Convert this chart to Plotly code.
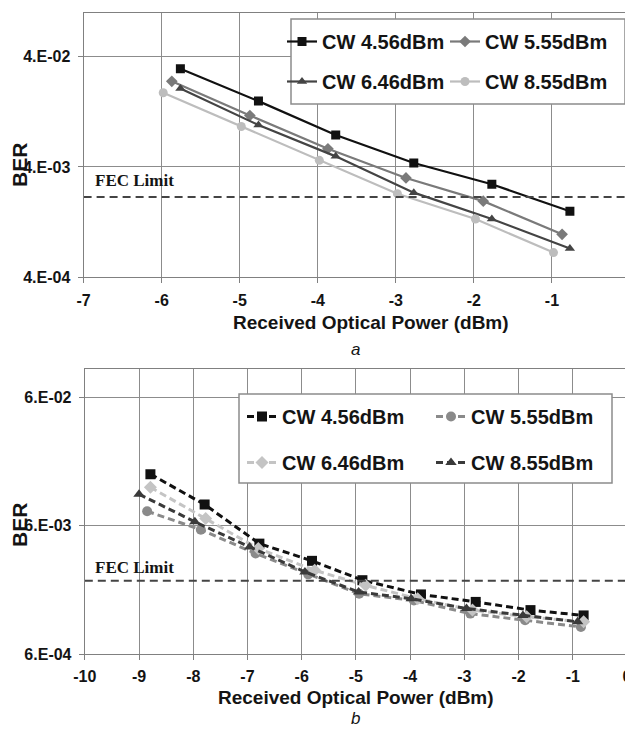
import math
import plotly.graph_objects as go

# ---------------- data ----------------
series_names = ["CW 4.56dBm", "CW 5.55dBm", "CW 6.46dBm", "CW 8.55dBm"]

# panel a
a_x_456 = [-5.76, -4.76, -3.77, -2.77, -1.77, -0.77]
a_y_456 = [3.1e-2, 1.58e-2, 7.8e-3, 4.34e-3, 2.79e-3, 1.59e-3]
a_x_555 = [-5.87, -4.87, -3.87, -2.87, -1.88, -0.87]
a_y_555 = [2.39e-2, 1.17e-2, 5.85e-3, 3.18e-3, 1.96e-3, 9.8e-4]
a_x_646 = [-5.76, -4.76, -3.77, -2.77, -1.77, -0.77]
a_y_646 = [2.06e-2, 9.6e-3, 4.99e-3, 2.34e-3, 1.35e-3, 7.3e-4]
a_x_855 = [-5.98, -4.98, -3.98, -2.98, -1.98, -0.98]
a_y_855 = [1.88e-2, 9.3e-3, 4.59e-3, 2.29e-3, 1.35e-3, 6.7e-4]

# panel b
b_x_456 = [-8.79, -7.79, -6.78, -5.81, -4.88, -3.80, -2.79, -1.78, -0.80]
b_y_456 = [1.52e-2, 8.8e-3, 4.36e-3, 3.2e-3, 2.26e-3, 1.75e-3, 1.53e-3, 1.32e-3, 1.2e-3]
b_x_555 = [-8.85, -7.86, -6.85, -5.88, -4.94, -3.93, -2.89, -1.88, -0.85]
b_y_555 = [7.8e-3, 5.6e-3, 3.65e-3, 2.51e-3, 1.77e-3, 1.57e-3, 1.24e-3, 1.1e-3, 9.75e-4]
b_x_646 = [-8.79, -7.77, -6.80, -5.76, -4.82, -3.86, -2.85, -1.85, -0.80]
b_y_646 = [1.2e-2, 6.84e-3, 3.99e-3, 2.7e-3, 2.06e-3, 1.62e-3, 1.32e-3, 1.17e-3, 1.07e-3]
b_x_855 = [-9.0, -7.97, -6.96, -5.94, -4.95, -3.98, -2.96, -1.92, -0.91]
b_y_855 = [1.06e-2, 6.45e-3, 4.11e-3, 2.62e-3, 1.83e-3, 1.62e-3, 1.36e-3, 1.2e-3, 1.07e-3]

fec_a = 2.14e-3
fec_b = 2.24e-3

a_xrange = [-7, 0]
b_xrange = [-10, 0]
a_xtickvals = [-7, -6, -5, -4, -3, -2, -1, 0]
a_xticktext = ["-7", "-6", "-5", "-4", "-3", "-2", "-1", "0"]
b_xtickvals = [-10, -9, -8, -7, -6, -5, -4, -3, -2, -1, 0]
b_xticktext = ["-10", "-9", "-8", "-7", "-6", "-5", "-4", "-3", "-2", "-1", "0"]
a_ytickvals = [4e-4, 4e-3, 4e-2]
a_yticktext = ["4.E-04", "4.E-03", "4.E-02"]
b_ytickvals = [6e-4, 6e-3, 6e-2]
b_yticktext = ["6.E-04", "6.E-03", "6.E-02"]

x_title = "Received Optical Power (dBm)"
y_title = "BER"
fec_text = "FEC Limit"

# ---------------- layout helpers ----------------
# the page body has an 8px margin, so the figure is placed at (8, 8)
OFF = 8
WIN_W, WIN_H = 633, 731
W, H = WIN_W - OFF, WIN_H - OFF
def px(x):
    return (x - OFF) / W
def py(y):
    return 1 - (y - OFF) / H

SANS = "Liberation Sans, Arial, sans-serif"
SERIF = "Liberation Serif, Times New Roman, serif"
TXT = "#141414"
GRID = "#8c8c8c"

fig = go.Figure()

# panel a traces (solid)
a_styles = [
    (a_x_456, a_y_456, "#111111", "square", "legend"),
    (a_x_555, a_y_555, "#7a7a7a", "diamond", "legend2"),
    (a_x_646, a_y_646, "#444444", "triangle-up", "legend"),
    (a_x_855, a_y_855, "#bdbdbd", "circle", "legend2"),
]
for name, (xs, ys, col, sym, lg) in zip(series_names, a_styles):
    fig.add_trace(go.Scatter(
        x=xs, y=ys, name=name, mode="lines+markers",
        line=dict(color=col, width=2.2),
        marker=dict(color=col, symbol=sym, size=9),
        xaxis="x", yaxis="y", legend=lg, legendgroup="a" + name))

fig.add_trace(go.Scatter(x=a_xrange, y=[fec_a, fec_a], mode="lines",
                         line=dict(color="#444444", width=2, dash="8px,5px"),
                         showlegend=False, xaxis="x", yaxis="y", hoverinfo="skip"))

# panel b traces (dashed)
b_styles = [
    (b_x_456, b_y_456, "#111111", "square", "legend3"),
    (b_x_555, b_y_555, "#8a8a8a", "circle", "legend4"),
    (b_x_646, b_y_646, "#c4c4c4", "diamond", "legend3"),
    (b_x_855, b_y_855, "#3a3a3a", "triangle-up", "legend4"),
]
for name, (xs, ys, col, sym, lg) in zip(series_names, b_styles):
    fig.add_trace(go.Scatter(
        x=xs, y=ys, name=name, mode="lines+markers",
        line=dict(color=col, width=3, dash="7px,4px"),
        marker=dict(color=col, symbol=sym, size=10),
        xaxis="x2", yaxis="y2", legend=lg, legendgroup="b" + name))

fig.add_trace(go.Scatter(x=b_xrange, y=[fec_b, fec_b], mode="lines",
                         line=dict(color="#444444", width=2, dash="8px,5px"),
                         showlegend=False, xaxis="x2", yaxis="y2", hoverinfo="skip"))

axis_common = dict(
    showgrid=True, gridcolor=GRID, gridwidth=1,
    showline=True, linecolor="#808080", linewidth=1.2, mirror=True,
    ticks="outside", ticklen=5, tickcolor="#808080",
    zeroline=False, automargin=False, ticklabeloverflow="allow",
    tickfont=dict(family=SANS, size=16, color=TXT, weight="bold"),
)

fig.update_layout(
    template="none",
    width=W, height=H,
    margin=dict(l=0, r=0, t=0, b=0, autoexpand=False),
    paper_bgcolor="white", plot_bgcolor="white",
    xaxis=dict(domain=[px(83.6), px(630)], range=a_xrange,
               tickvals=a_xtickvals, ticktext=a_xticktext,
               anchor="y", ticklabelstandoff=3, **axis_common),
    yaxis=dict(domain=[py(277.3), py(12.7)], type="log",
               range=[math.log10(4e-4), -1.0],
               tickvals=a_ytickvals, ticktext=a_yticktext,
               anchor="x", ticklabelstandoff=4, **axis_common),
    xaxis2=dict(domain=[px(84.8), px(627)], range=b_xrange,
                tickvals=b_xtickvals, ticktext=b_xticktext,
                anchor="y2", ticklabelstandoff=3, **axis_common),
    yaxis2=dict(domain=[py(654), py(369.3)], type="log",
                range=[math.log10(6e-4), -1.0],
                tickvals=b_ytickvals, ticktext=b_yticktext,
                anchor="x2", ticklabelstandoff=4, **axis_common),
    showlegend=True,
)

leg_common = dict(xanchor="left", yanchor="top", bgcolor="rgba(0,0,0,0)",
                  borderwidth=0, orientation="v",
                  font=dict(family=SANS, size=20, color=TXT, weight="bold"))
fig.update_layout(
    legend=dict(x=px(282), y=py(22), tracegroupgap=11, **leg_common),
    legend2=dict(x=px(445), y=py(22), tracegroupgap=11, **leg_common),
    legend3=dict(x=px(242), y=py(397), tracegroupgap=17, **leg_common),
    legend4=dict(x=px(431), y=py(397), tracegroupgap=17, **leg_common),
)

# legend boxes
fig.add_shape(type="rect", xref="paper", yref="paper",
              x0=px(291), x1=px(625), y0=py(104), y1=py(19),
              line=dict(color="#8c8c8c", width=1.5), fillcolor="white", layer="above")
fig.add_shape(type="rect", xref="paper", yref="paper",
              x0=px(239), x1=px(612), y0=py(483), y1=py(394),
              line=dict(color="#8c8c8c", width=1.5), fillcolor="white", layer="above")

ann = []
def add_text(x, y, text, font, angle=0, xanchor="center"):
    ann.append(dict(x=px(x), y=py(y), xref="paper", yref="paper", text=text,
                    showarrow=False, font=font, textangle=angle,
                    xanchor=xanchor, yanchor="middle"))

title_font = dict(family=SANS, size=19, color=TXT, weight="bold")
add_text(371, 322, x_title, title_font)
add_text(356, 697, x_title, title_font)
ber_font = dict(family=SANS, size=21, color=TXT, weight="bold")
add_text(19, 165, y_title, ber_font, angle=-90)
add_text(19, 525, y_title, ber_font, angle=-90)
fec_font = dict(family=SERIF, size=17, color=TXT, weight="bold")
add_text(93, 180, fec_text, fec_font, xanchor="left")
add_text(93, 567, fec_text, fec_font, xanchor="left")
cap_font = dict(family=SANS, size=17, color=TXT, style="italic")
add_text(355, 349, "a", cap_font)
add_text(355, 718, "b", cap_font)
fig.update_layout(annotations=ann)

fig.write_html("out.html")
